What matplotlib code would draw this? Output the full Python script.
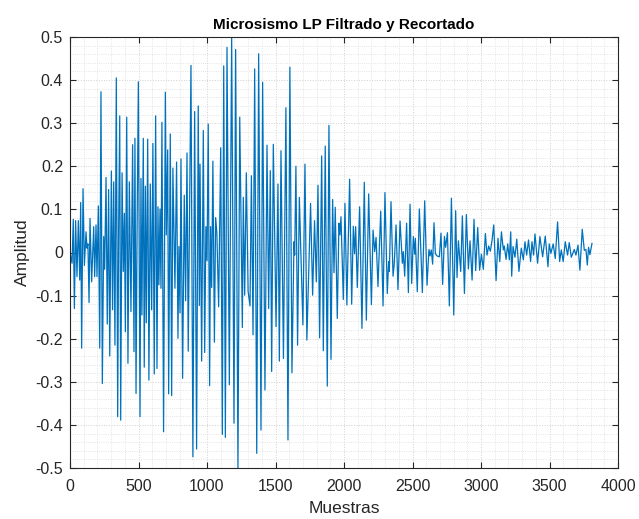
import matplotlib

matplotlib.use("Agg")

import matplotlib.pyplot as plt
from matplotlib.ticker import MultipleLocator

# extremos del registro filtrado (muestra, amplitud)
muestras = [
    1, 15, 24, 32, 41, 51, 61, 71, 78, 85, 95, 105, 117, 124, 131, 139, 146, 158,
    173, 180, 190, 197, 207, 217, 226, 236, 246, 253, 263, 272, 282, 290, 302, 311,
    319, 328, 338, 348, 355, 363, 370, 380, 389, 397, 404, 414, 423, 433, 445, 457,
    467, 474, 482, 489, 499, 511, 518, 525, 535, 542, 550, 557, 567, 576, 586, 596,
    605, 615, 625, 635, 642, 649, 657, 664, 671, 683, 696, 703, 713, 720, 732, 742,
    751, 766, 778, 788, 795, 803, 810, 822, 834, 844, 854, 863, 883, 897, 910, 924,
    936, 944, 949, 961, 973, 983, 992, 1000, 1009, 1019, 1026, 1034, 1043, 1054,
    1063, 1072, 1085, 1100, 1112, 1122, 1134, 1146, 1163, 1180, 1197, 1209, 1226,
    1239, 1258, 1265, 1275, 1287, 1300, 1314, 1324, 1336, 1348, 1363, 1377, 1394,
    1406, 1423, 1438, 1450, 1462, 1472, 1484, 1504, 1518, 1528, 1540, 1558, 1576,
    1591, 1605, 1620, 1635, 1640, 1649, 1661, 1674, 1700, 1715, 1729, 1756, 1771,
    1785, 1798, 1810, 1822, 1837, 1849, 1863, 1878, 1890, 1905, 1917, 1927, 1936,
    1951, 1963, 1970, 1978, 1995, 2007, 2021, 2041, 2056, 2068, 2077, 2085, 2097,
    2114, 2131, 2148, 2163, 2180, 2200, 2212, 2224, 2234, 2248, 2268, 2285, 2299,
    2316, 2326, 2331, 2343, 2358, 2367, 2380, 2394, 2409, 2426, 2433, 2443, 2457,
    2470, 2482, 2494, 2506, 2516, 2521, 2535, 2550, 2572, 2589, 2606, 2620, 2628,
    2637, 2647, 2657, 2667, 2679, 2696, 2708, 2720, 2733, 2742, 2755, 2769, 2784,
    2801, 2815, 2825, 2835, 2852, 2864, 2879, 2893, 2908, 2920, 2935, 2949, 2961,
    2976, 2990, 3003, 3017, 3032, 3044, 3056, 3068, 3080, 3093, 3110, 3124, 3137,
    3149, 3163, 3170, 3183, 3195, 3207, 3217, 3224, 3234, 3248, 3261, 3277, 3294,
    3309, 3321, 3333, 3347, 3362, 3372, 3384, 3394, 3413, 3430, 3450, 3469, 3489,
    3498, 3510, 3527, 3542, 3559, 3574, 3586, 3600, 3615, 3632, 3644, 3659, 3681,
    3693, 3708, 3722, 3739, 3754, 3766, 3776, 3785, 3795, 3810,
]
amplitud = [
    0.0, -0.025, 0.077, -0.13, 0.074, -0.056, 0.074, -0.064, 0.116, -0.222, 0.148,
    -0.03, 0.048, 0.01, 0.02, -0.116, 0.079, -0.068, 0.06, -0.056, 0.064, -0.056,
    0.108, -0.222, 0.373, -0.304, 0.037, -0.039, 0.174, -0.166, 0.146, -0.24, 0.189,
    -0.133, 0.164, -0.215, 0.405, -0.381, 0.056, 0.317, -0.389, 0.185, -0.044, 0.091,
    -0.184, 0.314, -0.257, 0.164, -0.137, 0.25, -0.23, 0.265, -0.327, 0.03, 0.396,
    -0.381, 0.172, -0.145, 0.265, -0.266, 0.154, -0.163, 0.263, -0.296, 0.159, -0.133,
    0.253, -0.282, 0.317, -0.269, 0.106, -0.075, 0.101, -0.083, 0.302, -0.416, 0.372,
    0.041, 0.238, -0.328, 0.275, -0.332, 0.196, -0.083, 0.21, -0.199, 0.014, -0.14,
    0.217, -0.292, 0.133, -0.112, 0.231, -0.229, 0.434, -0.474, 0.327, -0.456, 0.34,
    -0.123, 0.205, -0.252, 0.283, -0.232, 0.06, -0.019, 0.298, -0.309, 0.06, -0.081,
    0.212, -0.208, 0.081, 0.045, -0.126, 0.243, -0.422, 0.433, -0.429, 0.476, -0.307,
    0.5, -0.396, 0.471, -0.5, 0.314, -0.174, 0.128, -0.099, 0.185, -0.09, -0.124,
    0.178, -0.191, 0.426, -0.466, 0.461, -0.412, 0.395, -0.319, 0.249, -0.13, 0.19,
    -0.276, 0.251, -0.172, 0.159, -0.252, 0.236, -0.246, 0.336, -0.435, 0.43, -0.279,
    0.025, -0.006, 0.2, -0.215, 0.128, -0.168, 0.205, -0.203, 0.114, -0.099, 0.074,
    -0.068, 0.156, -0.198, 0.224, -0.228, 0.247, -0.31, 0.295, -0.248, 0.123, -0.047,
    0.105, -0.153, 0.068, 0.041, 0.083, -0.109, 0.114, -0.122, 0.17, -0.12, 0.061,
    -0.003, 0.06, -0.081, 0.106, -0.176, 0.163, -0.157, 0.136, -0.121, 0.052, 0.002,
    0.035, -0.079, 0.096, -0.124, 0.139, -0.095, -0.021, -0.044, 0.118, -0.055,
    -0.025, 0.064, -0.086, 0.073, -0.025, 0.002, -0.055, 0.068, -0.093, 0.112, -0.072,
    0.037, -0.004, 0.033, -0.091, 0.101, -0.093, 0.12, -0.076, 0.007, -0.008, 0.006,
    -0.027, 0.069, -0.003, -0.008, -0.01, 0.045, -0.074, 0.037, 0.012, 0.046, -0.124,
    0.126, -0.145, 0.097, -0.058, 0.027, -0.044, 0.085, -0.095, 0.088, -0.038, 0.027,
    -0.064, 0.077, -0.042, 0.058, -0.041, -0.004, -0.039, 0.044, -0.006, 0.015, 0.003,
    0.027, 0.064, -0.065, 0.033, -0.021, 0.048, 0.006, 0.015, -0.016, 0.02, -0.017,
    0.048, -0.055, 0.014, -0.011, 0.031, -0.044, 0.01, -0.017, 0.025, -0.006, 0.029,
    -0.021, 0.025, -0.006, 0.043, -0.025, 0.037, -0.01, 0.038, -0.033, 0.02, -0.002,
    0.02, -0.014, 0.071, -0.021, 0.006, -0.021, 0.025, -0.006, 0.023, -0.011, 0.007,
    -0.006, 0.017, -0.041, 0.054, 0.005, 0.007, -0.029, 0.012, -0.005, 0.021,
]

x_ticks = [0, 500, 1000, 1500, 2000, 2500, 3000, 3500, 4000]
y_ticks = [-0.5, -0.4, -0.3, -0.2, -0.1, 0, 0.1, 0.2, 0.3, 0.4, 0.5]
y_tick_labels = ["-0.5", "-0.4", "-0.3", "-0.2", "-0.1", "0", "0.1", "0.2", "0.3", "0.4", "0.5"]

plt.rcParams["font.family"] = ["Liberation Sans", "DejaVu Sans"]
plt.rcParams["axes.unicode_minus"] = False

axis_color = "#262626"

fig = plt.figure(figsize=(6.39, 5.19), dpi=100)
ax = fig.add_axes([70 / 639, 51 / 519, 548 / 639, 431 / 519])

ax.plot(muestras, amplitud, color="#0072BD", linewidth=0.9)

ax.set_xlim(0, 4000)
ax.set_ylim(-0.5, 0.5)
ax.set_xticks(x_ticks)
ax.set_xticklabels([str(t) for t in x_ticks])
ax.set_yticks(y_ticks)
ax.set_yticklabels(y_tick_labels)
ax.xaxis.set_minor_locator(MultipleLocator(100))
ax.yaxis.set_minor_locator(MultipleLocator(0.02))

ax.tick_params(which="major", direction="in", length=4, width=0.8, top=True, right=True,
               labelsize=11.5, colors=axis_color)
ax.tick_params(axis="x", which="major", pad=8)
ax.tick_params(axis="y", which="major", pad=5)
ax.tick_params(which="minor", length=0, top=True, right=True)
ax.grid(which="major", color="#cfcfcf", linestyle=":", linewidth=0.7)
ax.grid(which="minor", color="#dcdcdc", linestyle=":", linewidth=0.6)
ax.set_axisbelow(True)
for spine in ax.spines.values():
    spine.set_color(axis_color)
    spine.set_linewidth(0.8)

ax.set_title("Microsismo LP Filtrado y Recortado", fontsize=11, fontweight="bold",
             color="black", pad=6)
ax.set_xlabel("Muestras", fontsize=12.5, color=axis_color, labelpad=5)
ax.set_ylabel("Amplitud", fontsize=12.5, color=axis_color, labelpad=4)

fig.savefig("out.png", dpi=100)
plt.close(fig)
